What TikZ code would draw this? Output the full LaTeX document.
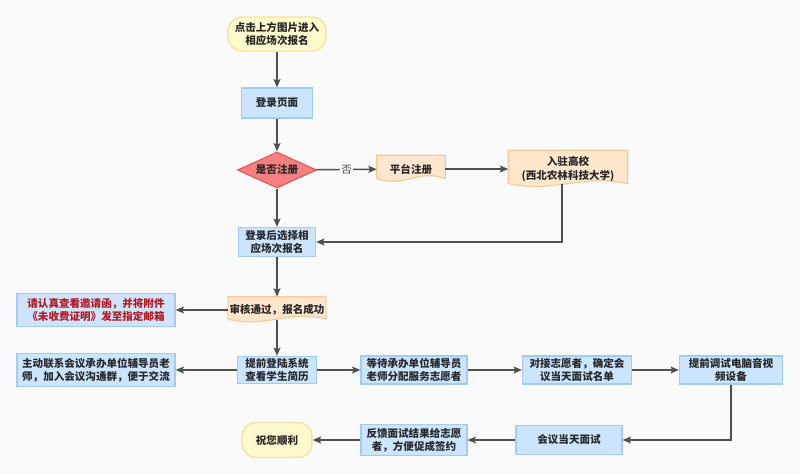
\documentclass[tikz,border=0pt]{standalone}
\usepackage{fontspec}
\setmainfont{Noto Sans CJK SC}
\usetikzlibrary{arrows.meta, shapes.geometric, positioning, backgrounds, calc}
\definecolor{pagebg}{RGB}{250,250,250}
\definecolor{bluefill}{RGB}{204,229,255}
\definecolor{blueline}{RGB}{160,204,245}
\definecolor{startfill}{RGB}{255,250,205}
\definecolor{startline}{RGB}{249,224,165}
\definecolor{docfill}{RGB}{255,230,204}
\definecolor{docline}{RGB}{247,202,152}
\definecolor{askfill}{RGB}{246,128,128}
\definecolor{askline}{RGB}{232,86,86}
\definecolor{warnred}{RGB}{185,22,32}
\definecolor{textgray}{RGB}{40,40,40}
\definecolor{linegray}{RGB}{80,80,80}

% wavy document outline, drawn behind a node
\newcommand{\docback}[1]{%
  \filldraw[fill=docfill, draw=docline, line width=0.8pt]
    (#1.north west) -- (#1.north east) -- ($(#1.south east)+(0,3pt)$)
    .. controls ($(#1.south west)!0.6!(#1.south east)+(0,10pt)$)
           and ($(#1.south west)!0.4!(#1.south east)+(0,-4pt)$)
    .. ($(#1.south west)+(0,3pt)$) -- cycle;}

\begin{document}
\begin{tikzpicture}[
          x=0.025cm, y=-0.025cm,
          every node/.style={font=\fontsize{7.5}{9.5}\selectfont\bfseries, text=textgray,
                             align=center, inner sep=1pt},
          box/.style={draw=blueline, fill=bluefill, line width=0.8pt},
          endbox/.style={draw=startline, fill=startfill, line width=1pt, rounded corners=10pt},
          ask/.style={diamond, draw=askline, fill=askfill, line width=0.8pt, inner sep=0pt},
          arr/.style={-{Stealth[length=6pt, width=5pt, inset=1.2pt]}, line width=1pt, draw=linegray},
        ]
        \node[endbox, minimum width=2.45cm, minimum height=0.85cm] (start) at (277,34) {点击上方图片进入\\相应场次报名};
        \node[box, minimum width=1.775cm, minimum height=0.75cm] (login) at (277,103) {登录页面};
        \node[ask, minimum width=1.975cm, minimum height=0.9cm, label={center:是否注册}] (reg) at (277,170) {};
        \node[minimum width=1.7cm, minimum height=0.675cm] (plat) at (411,169) {平台注册};
        \node[minimum width=2.975cm, minimum height=0.925cm] (school) at (568,169) {入驻高校\\(西北农林科技大学)};
        \node[box, minimum width=1.925cm, minimum height=0.725cm] (pick) at (277,242) {登录后选择相\\应场次报名};
        \node[minimum width=2.275cm, minimum height=0.65cm] (pass) at (277,310) {审核通过，报名成功};
        \node[box, minimum width=3.95cm, minimum height=0.825cm, text=warnred] (mail) at (96,310) {请认真查看邀请函，并将附件\\《未收费证明》发至指定邮箱};
        \node[box, minimum width=3.95cm, minimum height=0.825cm] (contact) at (96,370) {主动联系会议承办单位辅导员老\\师，加入会议沟通群，便于交流};
        \node[box, minimum width=1.975cm, minimum height=0.675cm] (resume) at (277,370) {提前登陆系统\\查看学生简历};
        \node[box, minimum width=2.65cm, minimum height=0.7cm] (wait) at (414,370) {等待承办单位辅导员\\老师分配服务志愿者};
        \node[box, minimum width=2.725cm, minimum height=0.7cm] (list) at (577,370) {对接志愿者，确定会\\议当天面试名单};
        \node[box, minimum width=2.575cm, minimum height=0.7cm] (device) at (731,370) {提前调试电脑音视\\频设备};
        \node[box, minimum width=2.65cm, minimum height=0.725cm] (meet) at (569,440) {会议当天面试};
        \node[box, minimum width=2.65cm, minimum height=0.775cm] (feed) at (414,440) {反馈面试结果给志愿\\者，方便促成签约};
        \node[endbox, minimum width=1.75cm, minimum height=0.875cm] (luck) at (277,440) {祝您顺利};

        \draw[arr] (start) -- (login);
        \draw[arr] (login) -- (reg);
        \draw[arr] (reg) -- node[fill=pagebg, font=\fontsize{7.5}{9}\selectfont, text=linegray] {否} (plat);
        \draw[arr] (plat) -- (school);
        \draw[arr] ([xshift=-0.15cm, yshift=3pt]school.south) |- (pick.east);
        \draw[arr] (reg) -- (pick);
        \draw[arr] (pick) -- (pass);
        \draw[arr] (pass) -- (mail);
        \draw[arr] ([yshift=2pt]pass.south) -- (resume);
        \draw[arr] (resume) -- (contact);
        \draw[arr] (resume) -- (wait);
        \draw[arr] (wait) -- (list);
        \draw[arr] (list) -- (device);
        \draw[arr] (device) |- (meet);
        \draw[arr] (meet) -- (feed);
        \draw[arr] (feed) -- (luck);

        \begin{scope}[on background layer]
          \fill[pagebg] (0,0) rectangle (800,475);
          \docback{plat}
          \docback{school}
          \docback{pass}
        \end{scope}
      \end{tikzpicture}
\end{document}
